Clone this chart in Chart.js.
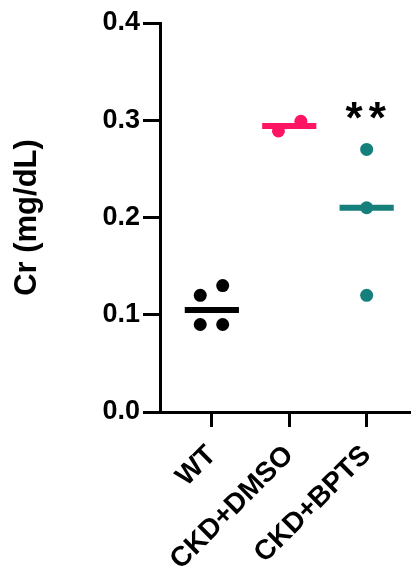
<!DOCTYPE html>
<html>
<head>
<meta charset="utf-8">
<script src="https://cdn.jsdelivr.net/npm/chart.js@4.4.1/dist/chart.umd.min.js"></script>
<style>
  body { margin: 0; background: #fff; }
  #wrap { width: 418px; height: 569px; }
</style>
</head>
<body>
<div id="wrap"><canvas id="crChart" width="418" height="569"></canvas></div>
<script>
// Data
const groups = ['WT', 'CKD+DMSO', 'CKD+BPTS'];
const groupColors = ['#000000', '#ff1464', '#15807b'];
const wtValues = [0.13, 0.12, 0.09, 0.09];
const dmsoValues = [0.299, 0.289];
const bptsValues = [0.27, 0.21, 0.12];
// horizontal scatter (in category units) used by the original plot
const wtJitter = [0.14, -0.15, -0.15, 0.14];
const dmsoJitter = [0.15, -0.14];
const bptsJitter = [0, 0, 0];
const medians = [0.105, 0.294, 0.21];
const yTicks = [0, 0.1, 0.2, 0.3, 0.4];
const sigLabel = '**';
const sigGroup = 2;
const sigValue = 0.287;

const FONT = "'Liberation Sans', Arial, sans-serif";
const halfLine = 0.35;

function pointsFor(values, jitter, idx) {
    return values.map((v, i) => ({ x: idx + jitter[i], y: v }));
}

const seriesValues = [wtValues, dmsoValues, bptsValues];
const seriesJitter = [wtJitter, dmsoJitter, bptsJitter];

const datasets = [];
groups.forEach((g, i) => {
    // median line
    datasets.push({
        type: 'line',
        label: g + ' median',
        data: [{ x: i - halfLine, y: medians[i] }, { x: i + halfLine, y: medians[i] }],
        borderColor: groupColors[i],
        borderWidth: 6,
        borderCapStyle: 'butt',
        pointRadius: 0,
        fill: false
    });
    // individual animals
    datasets.push({
        type: 'scatter',
        label: g,
        data: pointsFor(seriesValues[i], seriesJitter[i], i),
        backgroundColor: groupColors[i],
        borderWidth: 0,
        pointRadius: 6.5
    });
});

// significance stars above CKD+BPTS
const sigPlugin = {
    id: 'sigStars',
    afterDatasetsDraw(chart) {
        const ctx = chart.ctx;
        const x = chart.scales.x.getPixelForValue(sigGroup);
        const y = chart.scales.y.getPixelForValue(sigValue);
        ctx.save();
        ctx.font = 'bold 44px ' + FONT;
        ctx.fillStyle = '#000';
        ctx.textAlign = 'center';
        ctx.textBaseline = 'alphabetic';
        ctx.letterSpacing = '6px';
        ctx.fillText(sigLabel, x + 2, y);
        ctx.restore();
    }
};

new Chart(document.getElementById('crChart').getContext('2d'), {
    data: { datasets: datasets },
    options: {
        responsive: false,
        animation: false,
        layout: { padding: { top: 23, right: 8, left: 0, bottom: 0 } },
        plugins: { legend: { display: false }, tooltip: { enabled: false } },
        scales: {
            x: {
                type: 'linear',
                min: -0.67,
                max: 2.56,
                afterFit: s => { s.height = 157; },
                afterBuildTicks: s => { s.ticks = groups.map((g, i) => ({ value: i })); },
                grid: { drawOnChartArea: false, tickLength: 15, tickWidth: 3, tickColor: '#000' },
                border: { display: true, width: 3, color: '#000' },
                ticks: {
                    autoSkip: false,
                    minRotation: 45,
                    maxRotation: 45,
                    padding: 12,
                    color: '#000',
                    font: { family: FONT, size: 28, weight: 'bold' },
                    callback: v => groups[v]
                }
            },
            y: {
                min: 0,
                max: 0.4,
                afterFit: s => { s.width = 160; },
                afterBuildTicks: s => { s.ticks = yTicks.map(v => ({ value: v })); },
                grid: { drawOnChartArea: false, tickLength: 17, tickWidth: 3, tickColor: '#000' },
                border: { display: true, width: 3, color: '#000' },
                ticks: {
                    padding: 3,
                    color: '#000',
                    font: { family: FONT, size: 27, weight: 'bold' },
                    callback: v => v.toFixed(1)
                },
                title: {
                    display: true,
                    text: 'Cr (mg/dL)',
                    color: '#000',
                    padding: { top: 9, bottom: 0 },
                    font: { family: FONT, size: 31, weight: 'bold' }
                }
            }
        }
    },
    plugins: [sigPlugin]
});
</script>
</body>
</html>
